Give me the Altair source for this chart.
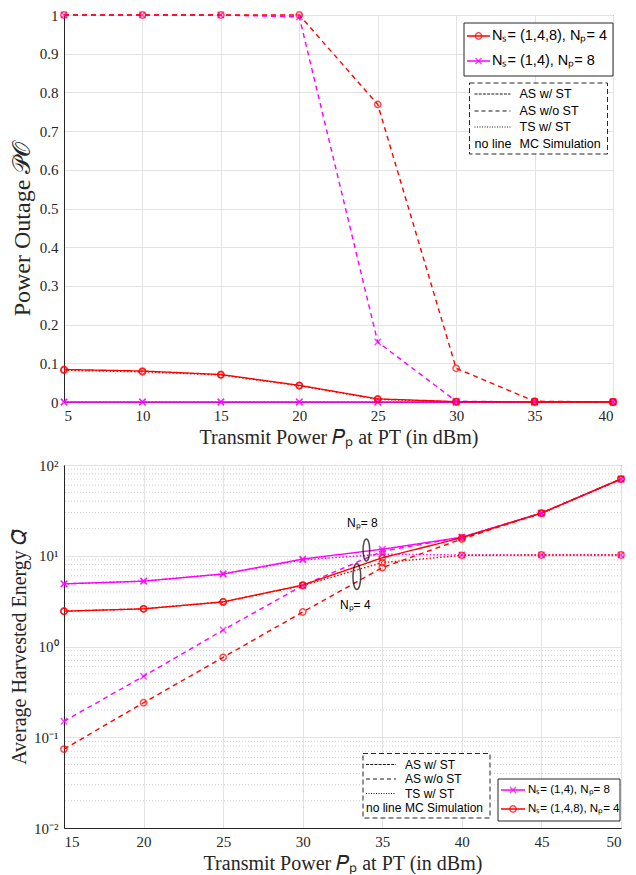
import altair as alt
import pandas as pd

# ---------------- data ----------------
P_TOP = [5, 10, 15, 20, 25, 30, 35, 40]
PO_RED_AS = [0.084, 0.080, 0.071, 0.043, 0.008, 0.001, 0.0, 0.0]
PO_RED_ASWO = [1.0, 1.0, 1.0, 1.0, 0.769, 0.087, 0.002, 0.0]
PO_RED_TS = [0.082, 0.078, 0.070, 0.042, 0.007, 0.0, 0.0, 0.0]
PO_MAG_AS = [0.0, 0.0, 0.0, 0.0, 0.0, 0.0, 0.0, 0.0]
PO_MAG_ASWO = [1.0, 1.0, 1.0, 0.995, 0.155, 0.002, 0.0, 0.0]
PO_MAG_TS = [0.0, 0.0, 0.0, 0.0, 0.0, 0.0, 0.0, 0.0]

P_BOT = [15, 20, 25, 30, 35, 40, 45, 50]
Q_MAG_AS = [4.9, 5.25, 6.3, 9.2, 11.8, 16.0, 29.5, 70.0]
Q_MAG_ASWO = [0.15, 0.47, 1.52, 4.7, 11.2, 16.0, 29.5, 70.0]
Q_MAG_TS = [4.9, 5.25, 6.3, 9.0, 10.4, 10.2, 10.2, 10.2]
Q_RED_AS = [2.45, 2.6, 3.1, 4.75, 9.5, 15.8, 29.5, 70.0]
Q_RED_ASWO = [0.074, 0.24, 0.76, 2.4, 7.4, 15.3, 29.5, 70.0]
Q_RED_TS = [2.45, 2.6, 3.1, 4.7, 8.4, 10.1, 10.2, 10.2]

GROUPS = ["Np8", "Np4"]
SCHEMES = ["AS w/ ST", "AS w/o ST", "TS w/ ST"]

# annotation (bottom panel)
ANN_TEXT = ["Nₚ= 8", "Nₚ= 4"]
ANN_TEXT_X = [33.75, 33.3]
ANN_TEXT_Y = [23.0, 2.9]
ELL_X = [34.0, 33.4]
ELL_Y = [11.6, 5.9]

RED = "#ff0000"
MAG = "#ff00ff"
DARK = "#262626"
XPATH = "M-1,-1L1,1M-1,1L1,-1"
ELLPATH = "M0,-1A0.3,1 0 1,1 0,1A0.3,1 0 1,1 0,-1"


def long(xs, table):
    rows = []
    for (grp, scheme), ys in table.items():
        for x, y in zip(xs, ys):
            rows.append(dict(P=x, v=y, grp=grp, scheme=scheme))
    return pd.DataFrame(rows)


top_df = long(P_TOP, {
    ("Np8", "AS w/ ST"): PO_MAG_AS, ("Np8", "AS w/o ST"): PO_MAG_ASWO, ("Np8", "TS w/ ST"): PO_MAG_TS,
    ("Np4", "AS w/ ST"): PO_RED_AS, ("Np4", "AS w/o ST"): PO_RED_ASWO, ("Np4", "TS w/ ST"): PO_RED_TS,
})
bot_df = long(P_BOT, {
    ("Np8", "AS w/ ST"): Q_MAG_AS, ("Np8", "AS w/o ST"): Q_MAG_ASWO, ("Np8", "TS w/ ST"): Q_MAG_TS,
    ("Np4", "AS w/ ST"): Q_RED_AS, ("Np4", "AS w/o ST"): Q_RED_ASWO, ("Np4", "TS w/ ST"): Q_RED_TS,
})

color = alt.Color("grp:N", scale=alt.Scale(domain=GROUPS, range=[MAG, RED]), legend=None)
dash = alt.StrokeDash("scheme:N", scale=alt.Scale(domain=SCHEMES, range=[[1, 0], [5, 4], [1.5, 2]]), legend=None)
shape = alt.Shape("grp:N", scale=alt.Scale(domain=GROUPS, range=[XPATH, "circle"]), legend=None)

one = pd.DataFrame({"k": [0]})
SANS = "Liberation Sans"
SERIF = "Liberation Serif"


def box(x1, x2, y1, y2, dashed=False):
    return alt.Chart(one).mark_rect(
        fill="white", stroke=DARK, strokeWidth=1, strokeDash=[5, 3] if dashed else [1, 0]
    ).encode(x=alt.value(x1), x2=alt.value(x2), y=alt.value(y1), y2=alt.value(y2))


def seg(x1, x2, y, col, d, w=1.0):
    return alt.Chart(one).mark_rule(color=col, strokeWidth=w, strokeDash=d).encode(
        x=alt.value(x1), x2=alt.value(x2), y=alt.value(y))


def txt(x, y, s, size, align="left", font=SANS, col="black"):
    return alt.Chart(one).mark_text(text=s, font=font, fontSize=size, align=align,
                                    baseline="middle", color=col).encode(
        x=alt.value(x), y=alt.value(y))


def mk(x, y, grp):
    if grp == "Np4":
        return alt.Chart(one).mark_point(shape="circle", size=40, filled=False, color=RED,
                                         strokeWidth=1.5).encode(x=alt.value(x), y=alt.value(y))
    return alt.Chart(one).mark_point(shape=XPATH, size=36, filled=False, color=MAG,
                                     strokeWidth=1.5).encode(x=alt.value(x), y=alt.value(y))


def style_legend(x1, x2, ys, lx1, lx2, tx, fs):
    layers = [box(x1, x2, ys[0] - 11, ys[3] + 10, dashed=True)]
    pats = [[3, 1.2], [4, 3], [1, 1.5]]
    for i, s in enumerate(SCHEMES):
        layers.append(seg(lx1, lx2, ys[i], "black", pats[i], 0.9))
        layers.append(txt(tx, ys[i], s, fs))
    layers.append(txt(lx1, ys[3], "no line", fs))
    layers.append(txt(tx, ys[3], "MC Simulation", fs))
    return layers


def color_legend(x1, x2, y1, y2, entries, lx1, lx2, tx, fs):
    layers = [box(x1, x2, y1, y2)]
    for (grp, y, label) in entries:
        col = RED if grp == "Np4" else MAG
        layers.append(seg(lx1, lx2, y, col, [1, 0], 1.5))
        layers.append(mk((lx1 + lx2) / 2, y, grp))
        layers.append(txt(tx, y, label, fs))
    return layers


XTITLE = "Transmit Power 𝑃ₚ at PT (in dBm)"

# ---------------- top panel ----------------
TW, TH = 549, 387
top_base = alt.Chart(top_df).encode(
    x=alt.X("P:Q", scale=alt.Scale(domain=[5, 40], nice=False),
            axis=alt.Axis(values=P_TOP, title=XTITLE, titlePadding=4)),
    y=alt.Y("v:Q", scale=alt.Scale(domain=[0, 1], nice=False),
            axis=alt.Axis(values=[round(i * 0.1, 1) for i in range(11)], format="~g",
                          title="Power Outage 𝒫𝒪", titleFontSize=24,
                          titleX=-42, titleY=TH / 2 + 20, titleBaseline="middle", titleAlign="center",
                          titleAngle=270)),
)
top_lines = top_base.mark_line(strokeWidth=1.4).encode(color=color, strokeDash=dash)
top_pts = top_base.mark_point(filled=False, size=40, strokeWidth=1.5).encode(color=color, shape=shape)

top_leg = color_legend(400, 549, 8, 61,
                       [("Np4", 21, "Nₛ= (1,4,8), Nₚ= 4"), ("Np8", 46, "Nₛ= (1,4), Nₚ= 8")],
                       403, 426, 428, 14.5)
top_leg += style_legend(405.5, 543.5, [79, 96, 112, 129], 410.5, 446.5, 455.5, 12.5)

top = alt.layer(top_lines, top_pts, *top_leg).properties(width=TW, height=TH)

# ---------------- bottom panel ----------------
BW, BH = 557, 363
MINOR = [m * 10.0 ** e for e in range(-2, 2) for m in range(2, 10)]
minor_df = pd.DataFrame({"v": MINOR})
labexpr = ("datum.value < 0.05 ? '10⁻²' : datum.value < 0.5 ? '10⁻¹' : "
           "datum.value < 5 ? '10⁰' : datum.value < 50 ? '10¹' : '10²'")
yb = alt.Y("v:Q", scale=alt.Scale(type="log", domain=[0.01, 100], nice=False),
           axis=alt.Axis(values=[0.01, 0.1, 1, 10, 100], labelExpr=labexpr,
                         title="Average Harvested Energy 𝑄̄",
                         titleX=-45, titleY=BH / 2, titleBaseline="middle", titleAlign="center",
                         titleAngle=270))
xb = alt.X("P:Q", scale=alt.Scale(domain=[15, 50], nice=False),
           axis=alt.Axis(values=P_BOT, title=XTITLE, titlePadding=4))

minor = alt.Chart(minor_df).mark_rule(color="#d0d0d0", strokeDash=[1, 2], strokeWidth=1).encode(y=yb)
bot_base = alt.Chart(bot_df).encode(x=xb, y=yb)
bot_lines = bot_base.mark_line(strokeWidth=1.4).encode(color=color, strokeDash=dash)
bot_pts = bot_base.mark_point(filled=False, size=40, strokeWidth=1.5).encode(color=color, shape=shape)

ann_df = pd.DataFrame({"P": ANN_TEXT_X, "v": ANN_TEXT_Y, "t": ANN_TEXT})
ann_txt = alt.Chart(ann_df).mark_text(font=SANS, fontSize=12, color="black").encode(
    x=alt.X("P:Q"), y=alt.Y("v:Q"), text="t:N")
ell1 = alt.Chart(pd.DataFrame({"P": [ELL_X[0]], "v": [ELL_Y[0]]})).mark_point(
    shape=ELLPATH, size=484, filled=False, color="black", strokeWidth=1.5).encode(x="P:Q", y="v:Q")
ell2 = alt.Chart(pd.DataFrame({"P": [ELL_X[1]], "v": [ELL_Y[1]]})).mark_point(
    shape=ELLPATH, size=676, filled=False, color="black", strokeWidth=1.5).encode(x="P:Q", y="v:Q")

bot_leg = style_legend(299, 426, [299.5, 314, 328.5, 343], 302, 332, 341, 12)
bot_leg += color_legend(434, 556, 314, 356,
                        [("Np8", 325, "Nₛ= (1,4), Nₚ= 8"), ("Np4", 344, "Nₛ= (1,4,8), Nₚ= 4")],
                        437, 461, 464, 11.5)

bottom = alt.layer(minor, bot_lines, bot_pts, ell1, ell2, ann_txt, *bot_leg).properties(width=BW, height=BH)

chart = alt.vconcat(top, bottom, spacing=9).properties(
    padding={"left": 0, "top": -1, "right": 0, "bottom": 0}
).configure_axis(
    labelFont=SERIF, labelFontSize=15, labelColor=DARK, labelFontWeight="normal",
    titleFont=SERIF, titleFontSize=20, titleColor=DARK, titleFontWeight="normal",
    domainColor=DARK, domainWidth=1, gridColor="#e3e3e3", gridWidth=1, ticks=False, labelPadding=6,
).configure_view(stroke=DARK, strokeWidth=1)

chart.save("out.html", embed_options={"renderer": "svg", "actions": False})
